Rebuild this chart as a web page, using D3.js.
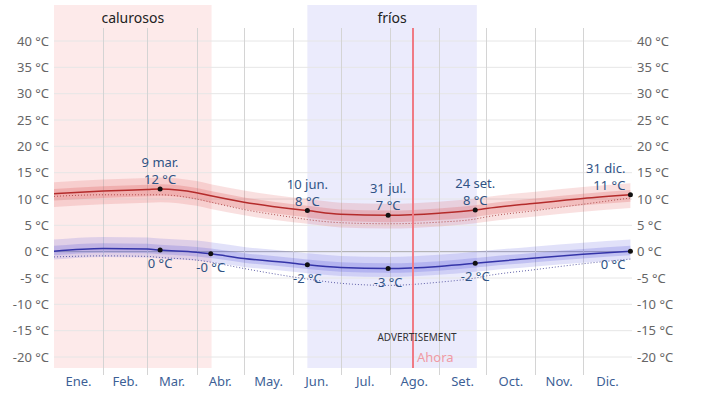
<!DOCTYPE html>
<html>
<head>
<meta charset="utf-8">
<script src="https://cdn.jsdelivr.net/npm/d3@7"></script>
<style>
  body { margin: 0; background: #fff; }
  svg { font-family: "Noto Sans", "Open Sans", sans-serif; }
</style>
</head>
<body>
<div id="chart"></div>
<script>
// data (day of year -> degrees C)
var days   = [0, 31, 59, 67, 90, 99, 120, 151, 160, 181, 211, 243, 266, 273, 304, 334, 364];
var high   = [11.0, 11.5, 11.8, 11.9, 11.2, 10.6, 9.4, 8.1, 7.8, 7.1, 6.9, 7.3, 7.9, 8.2, 9.2, 10.1, 10.8];
var low    = [0.1, 0.6, 0.5, 0.3, -0.1, -0.4, -1.3, -2.2, -2.5, -3.0, -3.2, -2.8, -2.2, -2.0, -1.2, -0.5, 0.1];
var highFeel = [10.5, 10.8, 10.8, 10.8, 10.0, 9.4, 8.0, 6.5, 6.1, 5.5, 5.3, 5.6, 6.2, 6.6, 7.8, 9.0, 10.2];
var lowFeel  = [-1.0, -0.8, -0.9, -1.1, -1.6, -2.0, -3.2, -4.8, -5.2, -6.0, -6.4, -5.8, -5.0, -4.6, -3.4, -2.3, -1.4];
var hiP90 = [13.2, 13.7, 14.0, 14.1, 13.4, 12.8, 11.6, 10.3, 10.0, 9.3, 9.1, 9.5, 10.1, 10.4, 11.4, 12.3, 13.0];
var hiP75 = [11.9, 12.4, 12.7, 12.8, 12.1, 11.5, 10.3, 9.0, 8.7, 8.0, 7.8, 8.2, 8.8, 9.1, 10.1, 11.0, 11.7];
var hiP25 = [9.7, 10.2, 10.5, 10.6, 9.9, 9.3, 8.1, 6.8, 6.5, 5.8, 5.6, 6.0, 6.6, 6.9, 7.9, 8.8, 9.5];
var hiP10 = [8.5, 9.0, 9.3, 9.4, 8.7, 8.1, 6.9, 5.6, 5.3, 4.6, 4.4, 4.8, 5.4, 5.7, 6.7, 7.6, 8.3];
var loP90 = [2.3, 2.8, 2.7, 2.5, 2.1, 1.8, 0.9, 0.0, -0.3, -0.8, -1.0, -0.6, 0.0, 0.2, 1.0, 1.7, 2.3];
var loP75 = [1.1, 1.6, 1.5, 1.3, 0.9, 0.6, -0.3, -1.2, -1.5, -2.0, -2.2, -1.8, -1.2, -1.0, -0.2, 0.5, 1.1];
var loP25 = [-0.7, -0.2, -0.3, -0.5, -0.9, -1.2, -2.1, -3.0, -3.3, -3.8, -4.0, -3.6, -3.0, -2.8, -2.0, -1.3, -0.7];
var loP10 = [-1.5, -1.0, -1.1, -1.3, -1.7, -2.0, -2.9, -3.8, -4.1, -4.6, -4.8, -4.4, -3.8, -3.6, -2.8, -2.1, -1.5];

var months = ["Ene.", "Feb.", "Mar.", "Abr.", "May.", "Jun.", "Jul.", "Ago.", "Set.", "Oct.", "Nov.", "Dic."];
var monthStarts = [0, 31, 59, 90, 120, 151, 181, 212, 243, 273, 304, 334, 365];
var yTicks = [-20, -15, -10, -5, 0, 5, 10, 15, 20, 25, 30, 35, 40];

var seasons = [{name: "calurosos", from: 0, to: 99.5, fill: "#fdeaea"},
               {name: "fríos", from: 160, to: 267, fill: "#ebebfc"}];

var hiMarkDays = [67, 160, 211, 266, 364];
var hiMarkText = ["9 mar.", "10 jun.", "31 jul.", "24 set.", "31 dic."];
var hiMarkVal  = [12, 8, 7, 8, 11];
var loMarkDays = [67, 99, 160, 211, 266, 364];
var loMarkVal  = ["0", "-0", "-2", "-3", "-2", "0"];
var nowDay = 227;

var W = 702, H = 399;
var svg = d3.select("#chart").append("svg").attr("width", W).attr("height", H);

var x = d3.scaleLinear().domain([0, 365]).range([54, 632]);
var y = d3.scaleLinear().domain([-20, 40]).range([357, 41]);

// seasons
svg.selectAll("rect.season").data(seasons).enter().append("rect")
  .attr("x", function(d) { return x(d.from); })
  .attr("width", function(d) { return x(d.to) - x(d.from); })
  .attr("y", 5).attr("height", 363)
  .attr("fill", function(d) { return d.fill; });
svg.selectAll("text.season").data(seasons).enter().append("text")
  .attr("x", function(d) { return (x(d.from) + x(d.to)) / 2; })
  .attr("y", 23).attr("text-anchor", "middle")
  .attr("font-size", 14).attr("fill", "#222")
  .text(function(d) { return d.name; });

// grid
svg.append("g").selectAll("line").data(yTicks).enter().append("line")
  .attr("x1", 54).attr("x2", 632)
  .attr("y1", function(d) { return y(d); }).attr("y2", function(d) { return y(d); })
  .attr("stroke", function(d) { return d === 0 ? "#aaa" : "#e6e6e6"; })
  .attr("stroke-width", 1);
svg.append("g").selectAll("line").data(monthStarts.slice(1, 12)).enter().append("line")
  .attr("x1", function(d) { return Math.round(x(d)) + 0.5; })
  .attr("x2", function(d) { return Math.round(x(d)) + 0.5; })
  .attr("y1", 28).attr("y2", 375)
  .attr("stroke", "#d4d4d4");

// y axes labels
var yl = d3.axisLeft(y).tickValues(yTicks).tickSize(0).tickPadding(5).tickFormat(function(d) { return d + " °C"; });
var yr = d3.axisRight(y).tickValues(yTicks).tickSize(0).tickPadding(5).tickFormat(function(d) { return d + " °C"; });
var gl = svg.append("g").attr("transform", "translate(54,0)").call(yl);
var gr = svg.append("g").attr("transform", "translate(632,0)").call(yr);
[gl, gr].forEach(function(g) {
  g.select(".domain").remove();
  g.selectAll("text").attr("font-size", 13).attr("fill", "#666").attr("font-family", "Noto Sans, sans-serif");
});

// month labels
svg.append("g").selectAll("text").data(months).enter().append("text")
  .attr("x", function(d, i) { return x((monthStarts[i] + monthStarts[i + 1]) / 2); })
  .attr("y", 386).attr("text-anchor", "middle")
  .attr("font-size", 13).attr("fill", "#3d5f96")
  .text(function(d) { return d; });

var curve = d3.curveMonotoneX;
function band(a, b) {
  return d3.area().curve(curve)
    .x(function(d, i) { return x(days[i]); })
    .y0(function(d, i) { return y(a[i]); })
    .y1(function(d, i) { return y(b[i]); })(days);
}
function line(v) {
  return d3.line().curve(curve)
    .x(function(d, i) { return x(days[i]); })
    .y(function(d, i) { return y(v[i]); })(days);
}

svg.append("path").attr("d", band(hiP10, hiP90)).attr("fill", "rgba(220,70,70,0.17)");
svg.append("path").attr("d", band(hiP25, hiP75)).attr("fill", "rgba(220,70,70,0.22)");
svg.append("path").attr("d", band(loP10, loP90)).attr("fill", "rgba(80,80,220,0.17)");
svg.append("path").attr("d", band(loP25, loP75)).attr("fill", "rgba(80,80,220,0.22)");

svg.append("path").attr("d", line(highFeel)).attr("fill", "none")
  .attr("stroke", "#b05050").attr("stroke-width", 1).attr("stroke-dasharray", "1,2");
svg.append("path").attr("d", line(lowFeel)).attr("fill", "none")
  .attr("stroke", "#6060a8").attr("stroke-width", 1).attr("stroke-dasharray", "1,2");
svg.append("path").attr("d", line(high)).attr("fill", "none")
  .attr("stroke", "#b42b2b").attr("stroke-width", 1.5);
svg.append("path").attr("d", line(low)).attr("fill", "none")
  .attr("stroke", "#3434a8").attr("stroke-width", 1.5);

// now line
var nowX = Math.round(x(nowDay));
svg.append("line").attr("x1", nowX).attr("x2", nowX).attr("y1", 28).attr("y2", 368)
  .attr("stroke", "#f07a84").attr("stroke-width", 2);
svg.append("text").attr("x", nowX + 4).attr("y", 362)
  .attr("font-size", 13).attr("fill", "#f09aa4").text("Ahora");
svg.append("text").attr("x", nowX + 4).attr("y", 341).attr("text-anchor", "middle")
  .attr("font-size", 10).attr("fill", "#333").text("ADVERTISEMENT");

// markers
function valAt(arr, d) { return arr[days.indexOf(d)]; }
svg.append("g").selectAll("circle").data(hiMarkDays).enter().append("circle")
  .attr("cx", function(d) { return x(d); }).attr("cy", function(d) { return y(valAt(high, d)); })
  .attr("r", 2.5).attr("fill", "#111");
svg.append("g").selectAll("circle").data(loMarkDays).enter().append("circle")
  .attr("cx", function(d) { return x(d); }).attr("cy", function(d) { return y(valAt(low, d)); })
  .attr("r", 2.5).attr("fill", "#111");

var lblColor = "#2f5385";
hiMarkDays.forEach(function(d, i) {
  var last = i === hiMarkDays.length - 1;
  var t = svg.append("text")
    .attr("x", last ? x(d) - 5 : x(d))
    .attr("text-anchor", last ? "end" : "middle")
    .attr("font-size", 13).attr("fill", lblColor);
  var yy = y(valAt(high, d));
  t.append("tspan").attr("x", last ? x(d) - 5 : x(d)).attr("y", yy - 22).text(hiMarkText[i]);
  t.append("tspan").attr("x", last ? x(d) - 5 : x(d)).attr("y", yy - 5).text(hiMarkVal[i] + " °C");
});
loMarkDays.forEach(function(d, i) {
  var last = i === loMarkDays.length - 1;
  svg.append("text")
    .attr("x", last ? x(d) - 5 : x(d))
    .attr("y", y(valAt(low, d)) + 18)
    .attr("text-anchor", last ? "end" : "middle")
    .attr("font-size", 13).attr("fill", lblColor)
    .text(loMarkVal[i] + " °C");
});
</script>
</body>
</html>
